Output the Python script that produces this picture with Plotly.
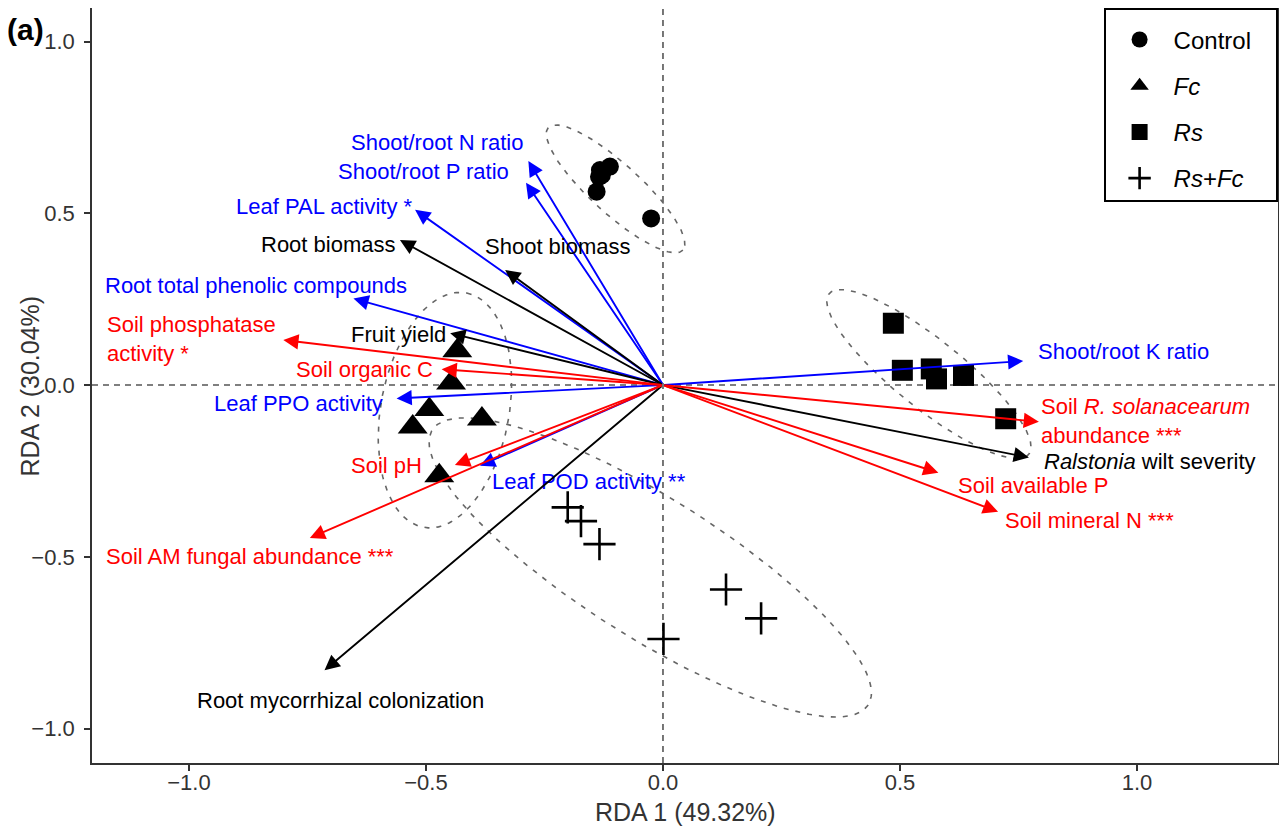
import numpy as np
import plotly.graph_objects as go

# ---------------- site scores (RDA1, RDA2) ----------------
ctrl_x = [-0.112, -0.133, -0.135, -0.140, -0.025, -0.129]
ctrl_y = [0.636, 0.626, 0.606, 0.563, 0.485, 0.611]
fc_x = [-0.434, -0.447, -0.493, -0.528, -0.382, -0.472]
fc_y = [0.100, 0.006, -0.071, -0.122, -0.099, -0.264]
rs_x = [0.486, 0.505, 0.566, 0.577, 0.634, 0.723]
rs_y = [0.180, 0.043, 0.047, 0.018, 0.028, -0.098]
rsfc_x = [-0.201, -0.173, -0.134, 0.133, 0.207, 0.001]
rsfc_y = [-0.356, -0.396, -0.463, -0.595, -0.679, -0.739]

# ---------------- group ellipses: centre + conjugate semi-axes ----------------
ell_groups = ["Control", "Fc", "Rs", "Rs+Fc"]
ell_cx = [-0.100, -0.460, 0.561, -0.027]
ell_cy = [0.571, -0.073, 0.032, -0.531]
ell_ux = [0.142, 0.046, 0.211, 0.460]
ell_uy = [-0.178, 0.341, -0.233, -0.400]
ell_vx = [-0.035, 0.133, -0.044, -0.079]
ell_vy = [-0.054, -0.035, -0.079, -0.172]

# ---------------- environmental vectors ----------------
# plant physiological variables (blue)
phys_names = ["Shoot/root N ratio", "Shoot/root P ratio", "Leaf PAL activity *",
              "Root total phenolic compounds", "Leaf PPO activity",
              "Leaf POD activity **", "Shoot/root K ratio"]
phys_x = [-0.284, -0.289, -0.523, -0.653, -0.562, -0.386, 0.760]
phys_y = [0.652, 0.589, 0.510, 0.252, -0.039, -0.235, 0.070]

# plant growth / disease variables (black)
growth_names = ["Root biomass", "Shoot biomass", "Fruit yield",
                "<i>Ralstonia</i> wilt severity", "Root mycorrhizal colonization"]
growth_x = [-0.555, -0.333, -0.449, 0.772, -0.714]
growth_y = [0.422, 0.335, 0.151, -0.211, -0.830]

# soil variables (red)
soil_names = ["Soil phosphatase<br>activity *", "Soil organic C", "Soil pH",
              "Soil AM fungal abundance ***",
              "Soil <i>R. solanacearum</i><br>abundance ***",
              "Soil available P", "Soil mineral N ***"]
soil_x = [-0.801, -0.467, -0.439, -0.745, 0.793, 0.581, 0.707]
soil_y = [0.131, 0.046, -0.233, -0.445, -0.107, -0.255, -0.369]

# label placement (layout): name -> (x, y, xanchor)
label_pos = {
    "Shoot/root N ratio": (-0.476, 0.705, "center"),
    "Shoot/root P ratio": (-0.506, 0.621, "center"),
    "Leaf PAL activity *": (-0.715, 0.519, "center"),
    "Root total phenolic compounds": (-0.859, 0.291, "center"),
    "Leaf PPO activity": (-0.769, -0.055, "center"),
    "Leaf POD activity **": (-0.156, -0.282, "center"),
    "Shoot/root K ratio": (0.971, 0.097, "center"),
    "Root biomass": (-0.705, 0.410, "center"),
    "Shoot biomass": (-0.221, 0.403, "center"),
    "Fruit yield": (-0.557, 0.146, "center"),
    "<i>Ralstonia</i> wilt severity": (1.027, -0.223, "center"),
    "Root mycorrhizal colonization": (-0.681, -0.917, "center"),
    "Soil phosphatase<br>activity *": (-1.177, 0.133, "left"),
    "Soil organic C": (-0.630, 0.044, "center"),
    "Soil pH": (-0.583, -0.233, "center"),
    "Soil AM fungal abundance ***": (-0.872, -0.500, "center"),
    "Soil <i>R. solanacearum</i><br>abundance ***": (0.794, -0.104, "left"),
    "Soil available P": (0.780, -0.291, "center"),
    "Soil mineral N ***": (0.899, -0.393, "center"),
}

FONT = "Liberation Sans, Arial, Helvetica, sans-serif"
fig = go.Figure()

# ellipses (dashed grey)
t = np.linspace(0, 2 * np.pi, 200)
for i, g in enumerate(ell_groups):
    ex = ell_cx[i] + ell_ux[i] * np.cos(t) + ell_vx[i] * np.sin(t)
    ey = ell_cy[i] + ell_uy[i] * np.cos(t) + ell_vy[i] * np.sin(t)
    fig.add_trace(go.Scatter(x=ex, y=ey, mode="lines", showlegend=False,
                             hoverinfo="skip",
                             line=dict(color="#666666", width=1.6, dash="5px,7px")))

# sample points
groups = [
    ("Control&nbsp;&nbsp;&nbsp;", ctrl_x, ctrl_y, "circle", 18),
    ("<i>Fc</i>", fc_x, fc_y, "triangle-up", 26),
    ("<i>Rs</i>", rs_x, rs_y, "square", 21),
    ("<i>Rs</i>+<i>Fc</i>", rsfc_x, rsfc_y, "cross-thin", 23),
]
for k, (name, gx, gy, sym, sz) in enumerate(groups):
    mk = dict(symbol=sym, size=sz, color="black")
    if sym == "cross-thin":
        mk["line"] = dict(color="black", width=2.6)
    fig.add_trace(go.Scatter(x=gx, y=gy, mode="markers", name=name,
                             legendgroup=f"g{k}", marker=mk))

annotations = []
def add_vectors(names, xs, ys, color):
    for n, vx, vy in zip(names, xs, ys):
        annotations.append(dict(x=vx, y=vy, ax=0, ay=0, xref="x", yref="y",
                                axref="x", ayref="y", text="", showarrow=True,
                                arrowhead=2, arrowsize=1.6, arrowwidth=1.9,
                                arrowcolor=color))
        lx, ly, anc = label_pos[n]
        annotations.append(dict(x=lx, y=ly, xref="x", yref="y", text=n,
                                showarrow=False, xanchor=anc, yanchor="middle",
                                align="left",
                                font=dict(family=FONT, size=22, color=color)))

add_vectors(phys_names, phys_x, phys_y, "#0000ff")
add_vectors(growth_names, growth_x, growth_y, "#000000")
add_vectors(soil_names, soil_x, soil_y, "#ff0000")

# panel tag and axis titles
annotations.append(dict(x=-0.0557, y=0.971, xref="paper", yref="paper",
                        text="<b>(a)</b>", showarrow=False, xanchor="center",
                        yanchor="middle",
                        font=dict(family=FONT, size=30, color="black")))
annotations.append(dict(x=0.5, y=-0.0649, xref="paper", yref="paper",
                        text="RDA 1 (49.32%)", showarrow=False,
                        xanchor="center", yanchor="middle",
                        font=dict(family=FONT, size=25, color="#333333")))
annotations.append(dict(x=-0.0523, y=0.5, xref="paper", yref="paper",
                        text="RDA 2 (30.04%)", showarrow=False, textangle=-90,
                        xanchor="center", yanchor="middle",
                        font=dict(family=FONT, size=25, color="#333333")))

shapes = [
    dict(type="line", x0=0, x1=0, y0=0, y1=1, xref="x", yref="paper",
         line=dict(color="#555555", width=1.6, dash="6px,5px"), layer="below"),
    dict(type="line", x0=0, x1=1, y0=0, y1=0, xref="paper", yref="y",
         line=dict(color="#555555", width=1.6, dash="6px,5px"), layer="below"),
]

axis_common = dict(showgrid=False, zeroline=False, showline=True, mirror=True,
                   linecolor="#333333", linewidth=1.6, ticks="outside",
                   ticklen=6, tickwidth=1.5, tickcolor="#333333",
                   automargin=False,
                   tickvals=[-1.0, -0.5, 0.0, 0.5, 1.0], tickformat=".1f",
                   tickfont=dict(family=FONT, size=22, color="#333333"))

# the page body adds an 8 px offset, so the figure is sized to fit the window
fig.update_layout(
    width=1271, height=820,
    margin=dict(l=84, r=1, t=0, b=65),
    paper_bgcolor="white", plot_bgcolor="white",
    xaxis=dict(range=[-1.2046, 1.2975], ticklabelstandoff=-7, **axis_common),
    yaxis=dict(range=[-1.100, 1.0975], ticklabelstandoff=5, **axis_common),
    legend=dict(x=1, y=1, xanchor="right", yanchor="top",
                bgcolor="white", bordercolor="black", borderwidth=1.6,
                font=dict(family=FONT, size=24, color="black"),
                title=dict(text=" ", font=dict(size=6)),
                tracegroupgap=12, itemwidth=58),
    annotations=annotations,
    shapes=shapes,
    showlegend=True,
)

fig.write_html("out.html")
